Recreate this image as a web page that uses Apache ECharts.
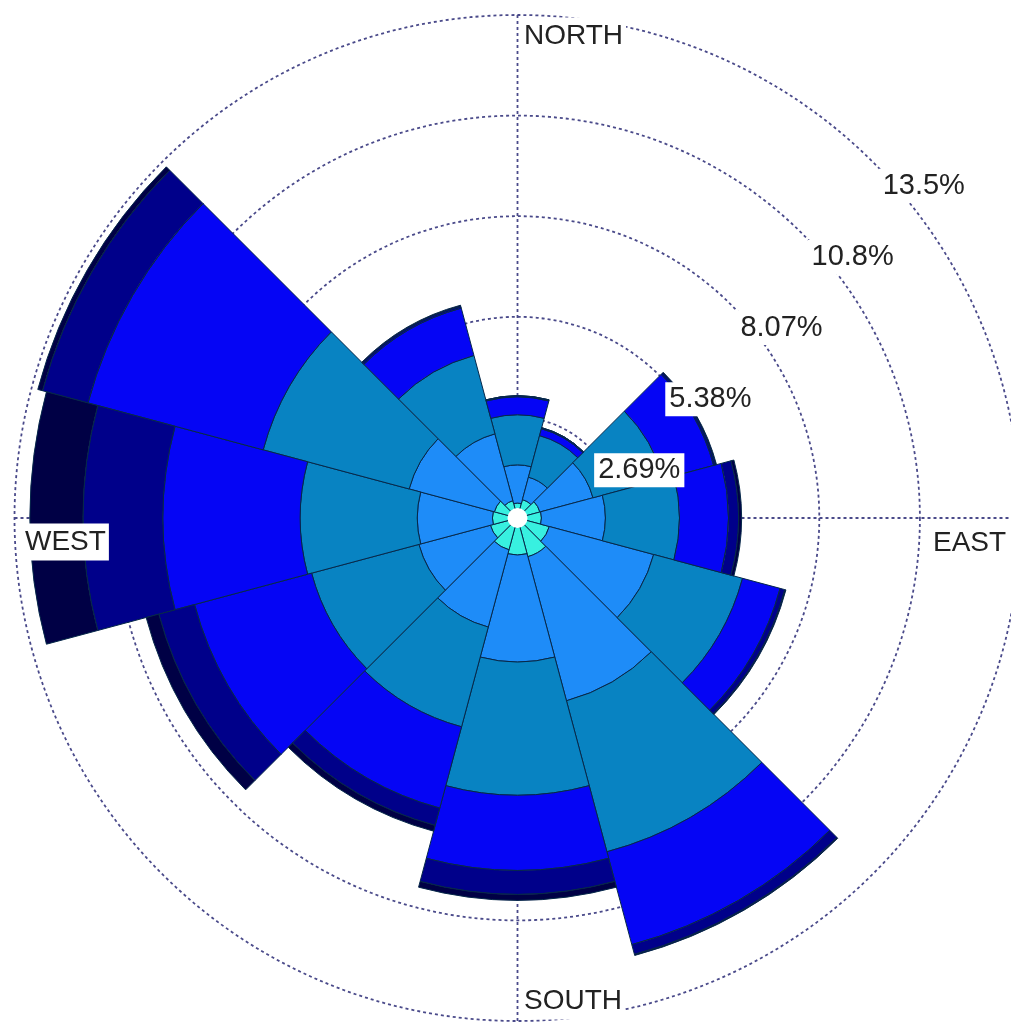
<!DOCTYPE html>
<html>
<head>
<meta charset="utf-8">
<script src="https://cdn.jsdelivr.net/npm/echarts@6/dist/echarts.min.js"></script>
<style>
html,body{margin:0;padding:0;background:#fff;}
#c{width:1011px;height:1022px;}
</style>
</head>
<body>
<div id="c"></div>
<script>
// Wind directions (degrees from north), 12 sectors of 30 degrees
const directions = ['0','30','60','90','120','150','180','210','240','270','300','330'];
// Frequency (%) per speed class, stacked from the centre outwards
const band1 = [0.40,0.51,0.62,0.64,0.88,1.07,0.99,0.88,0.75,0.67,0.64,0.48];
const band2 = [1.02,0.62,1.47,1.71,2.89,3.99,2.86,2.14,1.98,2.01,2.36,1.85];
const band3 = [1.34,1.15,1.95,1.98,2.46,4.18,3.56,2.76,2.97,3.13,4.04,2.17];
const band4 = [0.48,0.19,1.39,1.31,1.04,2.57,2.01,2.25,3.24,3.67,4.85,1.31];
const band5 = [0.03,0.03,0.05,0.27,0.13,0.27,0.64,0.48,0.99,2.14,1.26,0.05];
const band6 = [0.00,0.00,0.03,0.08,0.03,0.03,0.16,0.16,0.35,1.42,0.13,0.03];
// Radial ticks
const tickValues = [2.69,5.38,8.07,10.76,13.45];
const tickLabels = ['2.69%','5.38%','8.07%','10.8%','13.5%'];
// Compass labels
const compassNames = ['NORTH','EAST','SOUTH','WEST'];
const compassAngles = [0,90,180,270];

const bands = [band1,band2,band3,band4,band5,band6];
const colors = ['#38F0E0','#1E8CF8','#0883C2','#0505F5','#00008A','#000045'];
const labelOffsets = [[4,3],[-90,7],[4,-38],[8,6]];
const rMax = 13.45;
const center = [517.5,518];
const radius = 503;

const chart = echarts.init(document.getElementById('c'), null, {renderer:'canvas'});

const barSeries = bands.map((b,i)=>({
  type:'bar',
  coordinateSystem:'polar',
  polarIndex:0,
  stack:'wind',
  barCategoryGap:'0%',
  data:b,
  itemStyle:{color:colors[i],borderColor:'#06284a',borderWidth:1},
  silent:true,
  z:2
}));

const dashStyle = {color:'#4a4a8a',width:1.8,type:[3,3]};
const textCommon = {fontFamily:'Liberation Sans',color:'#222222',backgroundColor:'#ffffff'};

const option = {
  animation:false,
  backgroundColor:'#ffffff',
  polar:[
    {center:center,radius:radius},
    {center:center,radius:radius}
  ],
  angleAxis:[
    {polarIndex:0,type:'category',data:directions,startAngle:105,clockwise:true,show:false},
    {polarIndex:1,type:'value',min:0,max:360,interval:90,startAngle:90,clockwise:true,
     axisLine:{show:false},axisTick:{show:false},axisLabel:{show:false},
     splitLine:{show:true,lineStyle:dashStyle}}
  ],
  radiusAxis:[
    {polarIndex:0,type:'value',min:0,max:rMax,show:false},
    {polarIndex:1,type:'value',min:0,max:rMax,interval:2.69,
     axisLine:{show:false},axisTick:{show:false},axisLabel:{show:false},
     splitLine:{show:true,lineStyle:dashStyle}}
  ],
  series:barSeries.concat([
    {
      type:'scatter',coordinateSystem:'polar',polarIndex:1,
      data:[[0,0]],symbolSize:20,
      itemStyle:{color:'#ffffff',opacity:1},
      silent:true,z:5
    },
    {
      type:'scatter',coordinateSystem:'polar',polarIndex:1,
      data:tickValues.map((v,i)=>({value:[v,45],name:tickLabels[i]})),
      symbolSize:1,itemStyle:{color:'rgba(0,0,0,0)',opacity:1},
      silent:true,z:10,
      label:Object.assign({show:true,formatter:p=>p.name,position:[6,7],
        fontSize:29,padding:[2,4],lineHeight:30},textCommon)
    },
    {
      type:'scatter',coordinateSystem:'polar',polarIndex:1,
      data:compassNames.map((n,i)=>({value:[rMax,compassAngles[i]],name:n,
        label:{position:labelOffsets[i]}})),
      symbolSize:1,itemStyle:{color:'rgba(0,0,0,0)',opacity:1},
      silent:true,z:10,
      label:Object.assign({show:true,formatter:p=>p.name,
        fontSize:28,padding:[3,3],lineHeight:31},textCommon)
    }
  ])
};
chart.setOption(option);
</script>
</body>
</html>
